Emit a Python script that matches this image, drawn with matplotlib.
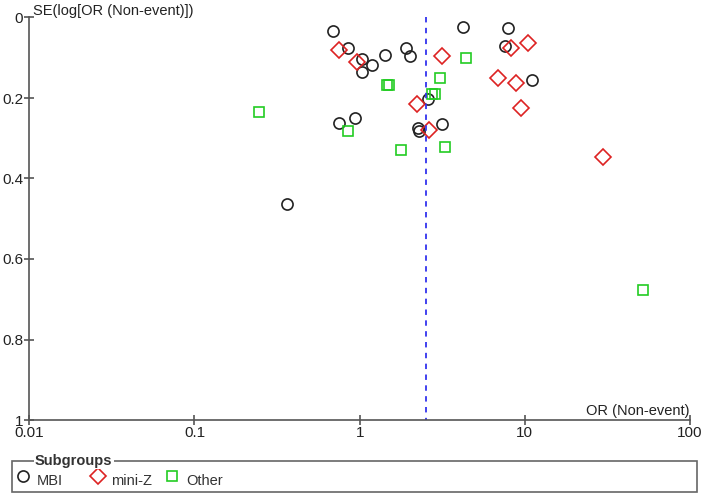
import matplotlib.pyplot as plt
from matplotlib.lines import Line2D
from matplotlib.patches import Rectangle

plt.rcParams['font.family'] = ['Liberation Sans', 'DejaVu Sans']

# funnel plot data: odds ratio (non-event) and SE(log OR) per study
mbi_or = [0.69, 0.855, 1.04, 1.18, 1.03, 1.42, 1.91, 2.02, 4.25, 7.92,
          7.56, 11.1, 2.61, 0.75, 0.94, 2.27, 2.30, 3.17, 0.362]
mbi_se = [0.033, 0.077, 0.103, 0.118, 0.136, 0.094, 0.076, 0.095, 0.023, 0.026,
          0.070, 0.155, 0.203, 0.262, 0.250, 0.274, 0.283, 0.265, 0.463]

miniz_or = [0.75, 0.97, 3.17, 8.22, 10.4, 6.92, 8.83, 9.54, 2.23, 2.64, 29.6]
miniz_se = [0.081, 0.111, 0.095, 0.075, 0.064, 0.151, 0.163, 0.226, 0.215, 0.280, 0.346]

other_or = [4.41, 1.47, 1.50, 3.06, 2.76, 2.87, 0.245, 0.85, 1.79, 3.28, 52.0]
other_se = [0.101, 0.168, 0.168, 0.151, 0.191, 0.189, 0.236, 0.283, 0.329, 0.321, 0.677]

pooled_or = 2.52

x_ticks = [0.01, 0.1, 1, 10, 100]
x_labels = ['0.01', '0.1', '1', '10', '100']
y_ticks = [0, 0.2, 0.4, 0.6, 0.8, 1]
y_labels = ['0', '0.2', '0.4', '0.6', '0.8', '1']

c_mbi = '#222222'
c_miniz = '#dd2222'
c_other = '#22cc22'
axis_col = '#555555'

fig = plt.figure(figsize=(7.08, 4.98), dpi=100)
ax = fig.add_axes([29.3 / 708, 78 / 498, (690 - 29.3) / 708, (420 - 17.5) / 498])

ax.plot(mbi_or, mbi_se, 'o', ms=8, mfc='none', mec=c_mbi, mew=1.2, clip_on=False)
ax.plot(miniz_or, miniz_se, 'D', ms=8.5, mfc='none', mec=c_miniz, mew=1.2, clip_on=False)
ax.plot(other_or, other_se, 's', ms=7.2, mfc='none', mec=c_other, mew=1.2, clip_on=False)

ax.plot([pooled_or, pooled_or], [0, 1], color='#3333ee', ls=(0, (3, 3)), lw=1.3)

ax.set_xscale('log')
ax.set_xlim(0.01, 100)
ax.set_ylim(1, 0)
ax.set_xticks(x_ticks)
ax.set_xticklabels(x_labels)
ax.minorticks_off()
ax.set_yticks(y_ticks)
ax.set_yticklabels(y_labels)

for s in ['top', 'right']:
    ax.spines[s].set_visible(False)
for s in ['left', 'bottom']:
    ax.spines[s].set_color(axis_col)
    ax.spines[s].set_linewidth(1.2)
ax.tick_params(direction='inout', length=7, width=1.2, color=axis_col,
               labelsize=11, labelcolor='#222222', pad=1)

ax.text(0.0106, 0.0, 'SE(log[OR (Non-event)])', fontsize=10.5, color='#222222',
        ha='left', va='bottom')
ax.text(100, 0.995, 'OR (Non-event)', fontsize=10.5, color='#222222',
        ha='right', va='bottom')

# legend box drawn in figure pixel space
def fx(px):
    return px / 708

def fy(py):
    return 1 - py / 498

fig.patches.append(Rectangle((fx(11.7), fy(492)), fx(697) - fx(11.7), fy(461) - fy(492),
                             transform=fig.transFigure, fill=False, ec='#666666', lw=1.2))
fig.text(fx(35), fy(461), 'Subgroups', fontsize=10.5, fontweight='bold', color='#333333',
         ha='left', va='center', bbox=dict(fc='white', ec='none', pad=1))

entries = [('o', 8, c_mbi, 'MBI', 23, 37),
           ('D', 8.5, c_miniz, 'mini-Z', 98, 111),
           ('s', 7.2, c_other, 'Other', 172, 186)]
for mk, ms, col, lab, mx, tx in entries:
    fig.add_artist(Line2D([fx(mx)], [fy(476)], marker=mk, ms=ms, mfc='none', mec=col,
                          mew=1.2, ls='none', transform=fig.transFigure))
    fig.text(fx(tx), fy(481), lab, fontsize=10.5, color='#333333', ha='left', va='center')

fig.savefig('out.png', dpi=100)
